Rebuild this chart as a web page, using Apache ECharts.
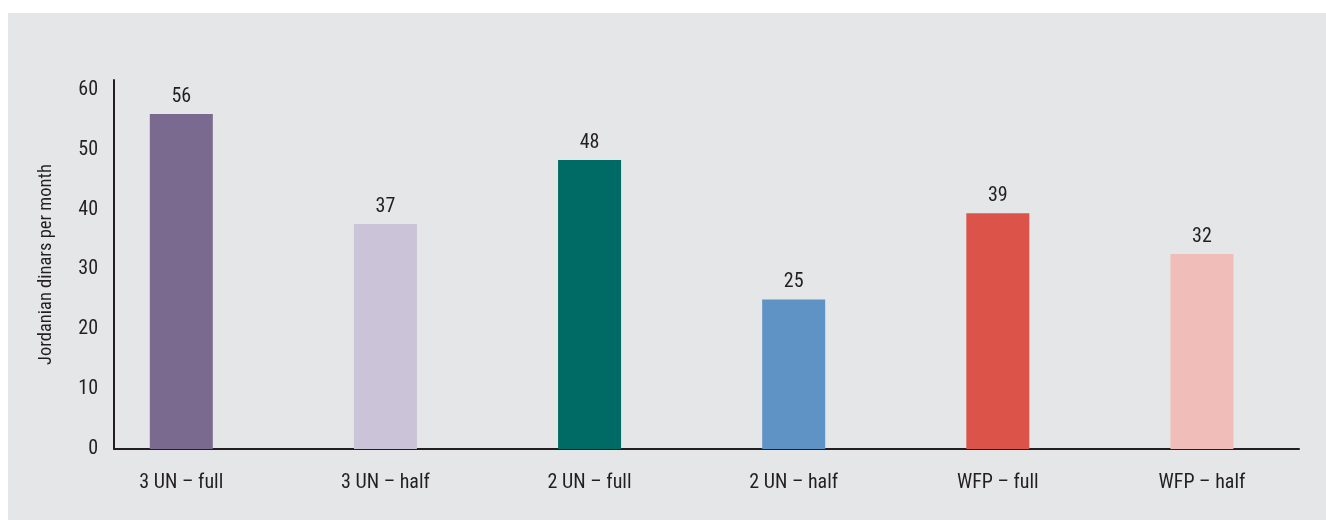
<!DOCTYPE html>
<html>
<head>
<meta charset="utf-8">
<script src="https://cdn.jsdelivr.net/npm/echarts@6/dist/echarts.min.js"></script>
<style>
  html, body { margin: 0; padding: 0; background: #ffffff; }
  #panel { position: absolute; left: 8px; top: 13px; width: 1318px; height: 507px; background: #e5e6e8; }
  #chart { position: absolute; left: 0; top: 0; width: 1326px; height: 520px; }
</style>
</head>
<body>
<div id="panel"></div>
<div id="chart"></div>
<script>
const categories = ['3 UN – full', '3 UN – half', '2 UN – full', '2 UN – half', 'WFP – full', 'WFP – half'];
const values = [56, 37.6, 48.3, 25, 39.4, 32.6];
const valueLabels = ['56', '37', '48', '25', '39', '32'];
const barColors = ['#7a6a90', '#cbc3d7', '#006b64', '#5f93c6', '#dc534a', '#f1bdb9'];
const yTicks = [0, 10, 20, 30, 40, 50, 60];
const yAxisTitle = 'Jordanian dinars per month';

const FONT = '"Liberation Sans Narrow", "Arial Narrow", "Roboto Condensed", "Liberation Sans", sans-serif';
const TXT = '#231f20';
const YMAX = 61.67;

const chart = echarts.init(document.getElementById('chart'), null, { renderer: 'canvas' });
chart.setOption({
  backgroundColor: 'transparent',
  animation: false,
  grid: [
    { left: 114, right: 27, top: 80, bottom: 71 },
    { left: 79.25, right: 22, top: 80, bottom: 71 }
  ],
  xAxis: [
    {
      gridIndex: 0, type: 'value', min: 0, max: 1,
      axisLine: { show: true, onZero: false, lineStyle: { color: TXT, width: 2 } },
      axisTick: { show: false }, axisLabel: { show: false }, splitLine: { show: false }
    },
    {
      gridIndex: 1, type: 'category', data: categories,
      axisLine: { show: false }, axisTick: { show: false },
      axisLabel: { color: TXT, fontFamily: FONT, fontSize: 20, margin: 24 }
    }
  ],
  yAxis: [
    {
      gridIndex: 0, type: 'value', min: 0, max: YMAX, interval: 10,
      name: yAxisTitle, nameLocation: 'middle', nameGap: 58,
      nameTextStyle: { color: TXT, fontFamily: FONT, fontSize: 18.5 },
      axisLine: { show: true, lineStyle: { color: TXT, width: 2 } },
      axisTick: { show: false }, splitLine: { show: false },
      axisLabel: {
        color: TXT, fontFamily: FONT, fontSize: 20, margin: 16,
        padding: [5, 0, 0, 0],
        showMaxLabel: false,
        formatter: v => (yTicks.indexOf(v) >= 0 ? String(v) : '')
      }
    },
    {
      gridIndex: 1, type: 'value', min: 0, max: YMAX,
      show: false, splitLine: { show: false }
    }
  ],
  series: [
    {
      type: 'bar', xAxisIndex: 1, yAxisIndex: 1,
      barWidth: 63,
      data: values.map((v, i) => ({ value: v, itemStyle: { color: barColors[i] } })),
      label: {
        show: true, position: 'top', distance: 7,
        color: TXT, fontFamily: FONT, fontSize: 20,
        formatter: p => valueLabels[p.dataIndex]
      }
    }
  ]
});
</script>
</body>
</html>
